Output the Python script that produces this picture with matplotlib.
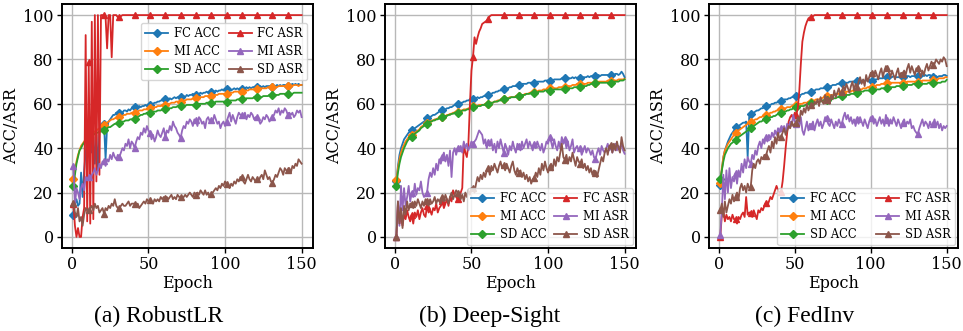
import matplotlib
matplotlib.use("Agg")
import matplotlib.pyplot as plt
import numpy as np

epochs = list(range(1, 151))
series_names = ["FC ACC", "MI ACC", "SD ACC", "FC ASR", "MI ASR", "SD ASR"]
captions = ["(a) RobustLR", "(b) Deep-Sight", "(c) FedInv"]
yticks = [0, 20, 40, 60, 80, 100]
xticks = [0, 50, 100, 150]

# ---------------- (a) RobustLR ----------------
rlr_fc_acc = [10, 15, 17, 14, 15, 29, 18, 30, 38, 44,
              43, 46, 38, 45, 33, 46, 30, 48, 49, 50,
              51, 35, 50, 52, 53, 54, 55, 55, 56, 56,
              56, 56.5, 56, 57, 57, 56.5, 57.5, 57, 58, 58,
              58.5, 58, 58.5, 59, 58.5, 59, 59, 59.5, 59, 59.5,
              59.5, 60, 60, 60.5, 60.5, 61, 61, 61.5, 61.5, 62,
              62, 61.5, 62, 62.5, 62, 62.5, 63, 62.5, 63, 63,
              63, 63.5, 63.5, 63, 64, 63.5, 64, 64, 64.5, 64,
              64, 64.5, 64.5, 65, 64.5, 65, 65, 65.5, 65, 65.5,
              65.5, 65, 65.5, 66, 65.5, 66, 66, 66.5, 66, 66.5,
              66.5, 66, 66.5, 66, 66.5, 67, 66.5, 67, 66.5, 67,
              66.5, 67, 67, 67.5, 67, 67.5, 67, 67.5, 67.5, 67.5,
              67.5, 67.5, 68, 67.5, 68, 67.5, 68, 68, 68, 67.5,
              67.5, 68, 68, 68.5, 68, 68.5, 68, 68.5, 68.5, 68,
              68, 68.5, 68.5, 69, 68.5, 69, 68.5, 69, 68.5, 68.5]
rlr_mi_acc = [26, 30, 34, 37, 39, 41, 42, 43, 44, 45,
              45.5, 46, 46.5, 47, 47.5, 48, 48.5, 49, 49.5, 50,
              50.5, 51, 51.5, 52, 52.5, 53, 53, 53.5, 53.5, 54,
              54, 54.5, 54.5, 55, 55, 55.5, 55.5, 55.5, 56, 56,
              56, 56.5, 56.5, 57, 57, 57, 57.5, 57.5, 57.5, 58,
              58, 58, 58.5, 58.5, 58.5, 59, 59, 59, 59.5, 59.5,
              59.5, 60, 60, 60, 60.5, 60.5, 60.5, 61, 61, 61,
              61, 61.5, 61.5, 61.5, 62, 62, 62, 62, 62.5, 62.5,
              62.5, 62.5, 63, 63, 63, 63, 63.5, 63.5, 63.5, 63.5,
              63.5, 64, 64, 64, 64, 64.5, 64.5, 64.5, 64.5, 64.5,
              64.5, 65, 65, 65, 65, 65.5, 65.5, 65.5, 65.5, 65.5,
              65.5, 66, 66, 66, 66, 66.5, 66.5, 66.5, 66.5, 66.5,
              66.5, 67, 67, 67, 67, 67, 67, 67.5, 67.5, 67.5,
              67.5, 67.5, 67.5, 67.5, 68, 68, 68, 68, 68, 68,
              68, 68.5, 68.5, 68, 68.5, 68.5, 68.5, 68, 68.5, 68.5]
rlr_sd_acc = [23, 28, 33, 36, 39, 40, 41.5, 42.5, 43.5, 44.5,
              45, 45.5, 46, 46, 46.5, 47, 47, 47.5, 47.5, 48,
              48, 48.5, 49, 49.5, 49.5, 50, 50.5, 51, 51, 51.5,
              51.5, 51.5, 52, 52, 52.5, 52.5, 52.5, 53, 53, 53,
              53, 53.5, 54, 54.5, 55, 55, 55.5, 55.5, 56, 56,
              56, 56, 56.5, 56.5, 56.5, 57, 57, 57, 57.5, 57.5,
              57.5, 57.5, 58, 58, 58, 58.5, 58.5, 58.5, 59, 59,
              59, 59, 59, 59, 59.5, 59.5, 59.5, 59.5, 59.5, 59.5,
              59.5, 59.5, 60, 60, 60, 60, 60, 60.5, 60.5, 60.5,
              60.5, 60.5, 60.5, 61, 61, 61, 61, 61, 61, 61,
              61, 61, 61.5, 61.5, 61.5, 61.5, 61.5, 62, 62, 62,
              62, 62, 62, 62.5, 62.5, 62.5, 62.5, 62.5, 63, 63,
              63, 63, 63, 63, 63.5, 63.5, 63.5, 63.5, 64, 64,
              64, 64, 64, 64, 64, 64.5, 64.5, 64.5, 64.5, 64.5,
              64.5, 64.5, 64.5, 64.5, 65, 65, 65, 65, 65, 65]
rlr_fc_asr = [15, 5, 0, 4, 0, 0, 9, 13, 91, 7,
              79, 6, 97, 8, 100, 25, 100, 28, 100, 100,
              100, 99, 85, 100, 100, 81, 100, 100, 100, 99,
              99, 99.5, 100, 100, 100, 100, 100, 100, 100, 100] + [100] * 110
rlr_mi_asr = [32, 14, 22, 20, 17, 22, 24, 21, 27, 26,
              27, 26, 28, 29, 31, 28, 30, 33, 31, 34,
              34, 32, 35, 34, 37, 35, 38, 36, 35, 37,
              36, 38, 40, 39, 42, 41, 44, 40, 43, 42,
              40, 43, 45, 44, 47, 46, 49, 47, 50, 48,
              47, 44, 46, 43, 45, 48, 46, 45, 47, 49,
              45, 48, 47, 50, 48, 52, 50, 49, 47, 46,
              44.5, 48, 50, 49, 52, 51, 53, 52, 50, 53,
              52.5, 50, 54, 53, 51, 52, 49, 53, 54, 52,
              52.5, 52, 55, 53, 51, 52, 49, 51, 52, 50,
              52, 54, 56, 52, 55, 53, 51, 54, 56, 55,
              55, 54, 56, 53, 55, 54, 56, 55, 53, 54,
              54, 53, 51, 52, 54, 53, 55, 54, 52, 53,
              54, 55, 57, 56, 58, 55, 57, 56, 58, 57,
              55, 56, 55, 56, 54, 55, 57, 56, 57, 54]
rlr_sd_asr = [15.5, 11, 9, 13, 7, 9, 5, 10, 13, 12,
              12, 13, 14, 12, 15, 13, 14, 11, 12, 13,
              10.5, 13, 12, 14, 13, 15, 14, 17, 14, 13,
              13, 14, 15, 14, 14, 15, 16, 14, 15, 15,
              15, 14, 15, 13, 14, 15, 16, 15, 17, 16,
              16.5, 16, 15, 17, 16, 17, 16, 18, 17, 18,
              17.5, 18, 17, 18, 19, 17, 18, 17, 19, 18,
              18, 17, 18, 19, 18, 19, 20, 19, 18, 20,
              19, 20, 19, 21, 20, 19, 21, 19, 20, 18,
              19.5, 20, 21, 22, 21, 23, 22, 24, 23, 25,
              24, 23, 22, 24, 23, 25, 24, 26, 25, 27,
              27, 25, 24, 26, 28, 26, 25, 27, 26, 25,
              26, 25, 27, 28, 26, 30, 28, 26, 27, 25,
              24.5, 26, 28, 27, 29, 31, 30, 28, 31, 30,
              30, 31, 29, 32, 31, 33, 32, 35, 34, 33]

# ---------------- (b) Deep-Sight ----------------
ds_fc_acc = [25, 32, 37, 40, 42, 44, 45, 46, 47, 47.5,
             48, 48.5, 49, 49.5, 50, 50.5, 51, 51.5, 52, 52.5,
             53.5, 53.5, 54, 54.5, 55, 55, 55.5, 56, 56.5, 57,
             57, 57, 57.5, 58, 58, 58.5, 58.5, 59, 59.5, 59.5,
             60, 60, 60.5, 60.5, 61, 61, 61.5, 61.5, 62, 62,
             62, 62.5, 62.5, 63, 62.5, 63, 63, 63.5, 63.5, 64,
             64, 64.5, 64.5, 65, 65, 65.5, 65.5, 66, 66, 66.5,
             66.5, 67, 67, 67, 67.5, 67.5, 68, 68, 68, 68.5,
             68.5, 68.5, 69, 69, 69, 69, 69.5, 69.5, 69.5, 69.5,
             69.5, 69.5, 70, 70, 70, 70, 70, 70.5, 70.5, 70.5,
             70.5, 70.5, 70.5, 71, 71, 71, 71, 71, 71.5, 71.5,
             71.5, 71.5, 71.5, 71.5, 71.5, 72, 71.5, 72, 71.5, 72,
             71.5, 72, 72, 72, 72, 72.5, 72, 72.5, 72.5, 72.5,
             72.5, 72.5, 73, 72.5, 73, 73, 73, 73, 73, 73,
             73, 73.5, 73, 73.5, 73.5, 73, 73.5, 74.5, 73.5, 72]
ds_mi_acc = [25.5, 31, 35, 38, 40, 41.5, 43, 44, 45, 45.5,
             46, 46.5, 47, 47.5, 48, 48.5, 49.5, 50, 50.5, 51,
             51.3, 51.5, 52, 52.5, 52.5, 53, 53, 53.5, 53.5, 54,
             54, 54.5, 54.5, 55, 55, 55.5, 55.5, 56, 56, 56.5,
             56.5, 56.5, 57, 57, 57.5, 57.5, 57.5, 58, 58, 58.5,
             58.8, 59, 59, 59, 59.5, 59.5, 59.5, 59.5, 60, 60,
             60, 60.5, 60.5, 60.5, 61, 61, 61.5, 61.5, 62, 62,
             62, 62.5, 62.5, 62.5, 63, 63, 63, 63, 63.5, 63.5,
             63.6, 64, 64, 64, 64.5, 64.5, 64.5, 65, 65, 65,
             65.5, 65.5, 65.5, 66, 66, 66, 66.5, 66.5, 66.5, 67,
             67, 67, 67, 67, 67, 67, 67.5, 67.5, 67.5, 67.5,
             67.5, 68, 68, 68, 68, 68.5, 68.5, 68.5, 69, 69,
             69, 69, 69, 69, 69, 69.5, 69.5, 69.5, 69.5, 69.5,
             69.6, 69.5, 70, 70, 70, 70, 70, 70, 70.5, 70.5,
             70.4, 70.5, 70.5, 70.5, 70.5, 71, 71, 71, 71, 71.3]
ds_sd_acc = [23, 29, 33, 36, 38, 40, 41.5, 43, 44, 44.5,
             45, 46, 46.5, 47, 47.5, 48, 49, 49.5, 50, 50.5,
             51, 51.5, 52, 52, 52.5, 52.5, 53, 53, 53.5, 54,
             54, 54, 54.5, 54.5, 55, 55, 55.5, 55.5, 56, 56,
             56, 56.5, 56.5, 57, 57, 57, 57.5, 57.5, 58, 58,
             58.5, 58.5, 58.5, 59, 59, 59, 59.5, 59.5, 59.5, 60,
             60, 60, 60.5, 60.5, 61, 61, 61, 61.5, 61.5, 62,
             62, 62, 62.5, 62.5, 62.5, 63, 63, 63, 63, 63.5,
             63.5, 63.5, 64, 64, 64, 64.5, 64.5, 64.5, 65, 65,
             65, 65, 65, 65.5, 65.5, 65.5, 65.5, 66, 66, 66,
             66, 66, 66, 66.5, 66.5, 66.5, 66.5, 66.5, 66.5, 66.5,
             66.5, 66.5, 67, 67, 67, 67, 67.5, 67.5, 67.5, 67.5,
             67.5, 67.5, 68, 68, 68, 68.5, 68.5, 69, 69, 69,
             69.5, 69.5, 69.5, 69.5, 69.5, 69.5, 69.5, 69.5, 69.5, 69.5,
             69.5, 69.5, 70, 70, 70, 70, 70.5, 70.5, 70.5, 71]
ds_fc_asr = [0, 15, 6, 9, 5, 10, 8, 12, 9, 7,
             10, 6, 11, 9, 12, 8, 11, 13, 10, 9,
             14, 11, 12, 10, 13, 12, 15, 11, 13, 14,
             16, 13, 15, 17, 14, 18, 16, 21, 19, 18,
             17, 18, 20, 22, 42, 38, 36, 42, 60, 75,
             81, 90, 87, 90, 92.5, 94, 96, 96.5, 97, 97.5,
             98.4, 99.5, 100, 100, 100, 100, 100, 100, 100, 100] + [100] * 80
ds_mi_asr = [0, 16, 5, 23, 12, 22, 14, 18, 23, 16,
             20, 18, 24, 19, 22, 21, 25, 20, 18, 19,
             20, 26, 29, 27, 31, 28, 33, 30, 35, 33,
             36, 38, 34, 37, 32, 39, 27, 38, 40, 37,
             40, 39, 41, 38, 43, 40, 42, 39, 41, 43,
             42, 43, 44, 46, 48, 47, 46, 42, 44, 40,
             43, 41, 44, 39, 42, 38, 43, 40, 44, 41,
             38, 42, 40, 37, 41, 39, 43, 40, 38, 42,
             41, 39, 43, 40, 42, 44, 40, 43, 41, 39,
             42, 40, 43, 41, 39, 42, 38, 40, 43, 42,
             45, 43, 40, 44, 41, 39, 43, 40, 45, 42,
             44, 40, 43, 39, 41, 44, 38, 40, 41, 39,
             40, 37, 39, 41, 38, 40, 39, 37, 39, 36,
             35, 38, 40, 37, 41, 39, 38, 40, 42, 39,
             41, 38, 40, 42, 39, 41, 40, 42, 39, 37.5]
ds_sd_asr = [0, 16, 6, 13, 4, 14, 10, 16, 12, 15,
             15, 13, 16, 14, 17, 15, 13, 16, 14, 17,
             16, 14, 17, 15, 16, 18, 15, 17, 16, 15,
             18, 16, 19, 17, 15, 18, 20, 17, 19, 21,
             20, 18, 17, 19, 16, 20, 18, 21, 19, 22,
             22, 20, 24, 27, 25, 28, 26, 29, 27, 30,
             31, 28, 32, 30, 33, 31, 29, 32, 34, 31,
             32.5, 30, 33, 31, 29, 32, 34, 30, 28, 31,
             28.7, 30, 27, 29, 26, 28, 25, 27, 24, 26,
             26.5, 29, 27, 31, 28, 33, 30, 34, 31, 29,
             31.7, 33, 30, 35, 32, 36, 34, 38, 42, 36,
             34.7, 37, 33, 36, 34, 38, 35, 32, 36, 34,
             33, 35, 31, 33, 30, 32, 29, 31, 28, 30,
             28.7, 27, 30, 33, 36, 34, 38, 40, 37, 41,
             41.5, 38, 42, 39, 43, 40, 38, 45, 41, 39]

# ---------------- (c) FedInv ----------------
fi_fc_acc = [23.5, 30, 36, 39, 41, 43, 44.5, 46, 47, 48,
             49.5, 49.5, 50, 50.5, 51, 51.5, 51.5, 52, 36, 54,
             55.3, 55.5, 56, 56.5, 57, 57, 57.5, 58, 58, 58.5,
             58.8, 59, 59.5, 59.5, 60, 60, 60.5, 60.5, 61, 61,
             61.3, 61.5, 62, 62, 62, 62.5, 62.5, 63, 63, 63,
             63.3, 63.5, 64, 64, 64.5, 64.5, 65, 65, 65, 65.5,
             65.5, 66, 66, 66.5, 66.5, 66.5, 67, 67, 67, 67.5,
             67.4, 67.5, 68, 68, 68.5, 68.5, 68.5, 69, 69, 69,
             69.3, 69.5, 69.5, 69.5, 69.5, 70, 70, 70, 70, 70,
             70.1, 70, 70.5, 70.5, 70.5, 70.5, 70.5, 70.5, 71, 70.5,
             70.5, 71, 71, 71, 71.5, 71.5, 71.5, 71.5, 72, 72,
             72, 72, 72, 72, 72.5, 72, 72, 72, 72, 72,
             72, 72, 72.5, 72.5, 72.5, 72, 72.5, 72.5, 72.5, 72.5,
             72.6, 72.5, 72.5, 73, 72.5, 73, 72.5, 73, 73, 72.5,
             72, 72.5, 72.5, 72, 72.5, 72.5, 72.5, 73, 73, 72.6]
fi_mi_acc = [24.5, 31, 36, 39, 40.5, 42, 43, 44, 45, 46,
             46.8, 47.5, 48, 48.5, 49, 49.5, 50, 50.5, 51, 51.5,
             51.6, 52, 52.5, 53, 53, 53.5, 54, 54, 54.5, 54.5,
             55, 55.5, 55.5, 56, 56, 56.5, 56.5, 57, 57, 57.5,
             57.6, 58, 58, 58, 58.5, 58.5, 58.5, 59, 59, 59.5,
             59.5, 59.5, 60, 60, 60, 60.5, 60.5, 60.5, 61, 61,
             61, 61.5, 61.5, 62, 62, 62, 62.5, 62.5, 63, 63,
             63.3, 63.5, 63.5, 64, 64, 64, 64.5, 64.5, 64.5, 64.5,
             64.8, 65, 65, 65.5, 65.5, 65.5, 65.5, 66, 66, 66,
             66, 66.5, 66.5, 66.5, 67, 67, 67, 67.5, 67.5, 67.5,
             67.8, 68, 68, 68.5, 68.5, 68.5, 69, 69, 69, 69.5,
             69.6, 69.5, 69.5, 69.5, 69.5, 69.5, 69.5, 69.5, 69.5, 69.5,
             69.6, 69.5, 69.5, 70, 70, 70, 70, 70, 70, 70,
             70, 70, 70, 70.5, 70.5, 70.5, 70.5, 70.5, 70.5, 70.5,
             70.8, 71, 71, 71, 71.5, 71.5, 71.5, 71.5, 72, 72]
fi_sd_acc = [26, 30, 34, 37, 38.5, 40, 41, 42, 42.5, 43,
             43.8, 44.5, 45, 45.5, 46, 46.5, 47, 47.5, 48, 48.5,
             49.3, 49.5, 50, 50.5, 51, 51.5, 52, 52, 52.5, 53,
             53.1, 53.5, 53.5, 54, 54, 54.5, 54.5, 55, 55.5, 55.5,
             55.8, 56, 56.5, 56.5, 57, 57, 57.5, 57.5, 58, 58,
             58.5, 58.5, 58.5, 59, 59, 59, 59.5, 59.5, 60, 60,
             60.3, 60.5, 60.5, 60.5, 61, 61, 61, 61.5, 61.5, 61.5,
             61.8, 62, 62, 62, 62.5, 62.5, 62.5, 63, 63, 63,
             63.3, 63.5, 63.5, 64, 64, 64, 64.5, 64.5, 64.5, 65,
             65.1, 65.5, 65.5, 65.5, 65.5, 66, 66, 66, 66, 66,
             66.3, 66.5, 66.5, 66.5, 66.5, 66.5, 67, 67, 67, 67,
             67.1, 67.5, 67.5, 67.5, 67.5, 67.5, 68, 68, 68, 68,
             68.1, 68.5, 68.5, 68.5, 68.5, 68.5, 68.5, 69, 69, 69,
             69, 69, 69, 69, 69, 69, 69, 69.5, 69.5, 69.5,
             69.3, 69.5, 69.5, 69.5, 69.5, 69.5, 70, 70, 70, 70.8]
fi_fc_asr = [0, 10, 12, 7, 10, 8, 9, 7, 10, 8,
             8, 6, 9, 8, 10, 11, 9, 18, 10, 11,
             11, 9, 12, 10, 8, 12, 11, 13, 12, 14,
             15.5, 14, 16, 18, 17, 19, 21, 23, 21, 20,
             20.4, 25, 32, 40, 47, 52, 54, 55, 53, 56,
             55, 58, 66, 78, 88, 92, 95, 97, 98.5, 99,
             99, 99.5, 100, 100, 100, 100, 100, 100, 100, 100] + [100] * 80
fi_mi_asr = [1, 12, 28, 17, 30, 20, 31, 22, 27, 25,
             28.7, 24, 30, 27, 33, 29, 35, 31, 36, 34,
             33, 37, 35, 39, 37, 41, 43, 40, 44, 42,
             45, 43, 46, 44, 47, 45, 48, 46, 49, 47,
             49, 48, 50, 47, 51, 49, 52, 50, 55, 52,
             51, 53, 50, 54, 48, 46, 49, 52, 48, 51,
             50, 52, 48, 51, 53, 50, 52, 49, 51, 54,
             53.5, 51, 50, 53, 51, 49, 52, 50, 53, 51,
             51, 54, 56, 53, 55, 52, 54, 51, 53, 50,
             53, 51, 54, 52, 50, 53, 51, 49, 52, 54,
             53.5, 51, 53, 50, 52, 54, 51, 53, 50, 55,
             52.5, 50, 53, 51, 54, 52, 50, 53, 51, 49,
             51.5, 53, 50, 52, 51, 53, 49, 50, 48, 47,
             46.3, 49, 51, 53, 50, 52, 51, 49, 52, 50,
             51, 53, 50, 52, 49, 51, 48, 50, 49, 50]
fi_sd_asr = [12.2, 15, 9, 16, 11, 14, 17, 15, 19, 16,
             18.2, 20, 17, 22, 24, 21, 23, 20, 24, 22,
             22.4, 30, 33, 31, 34, 35, 33, 36, 35, 37,
             36.5, 39, 41, 38, 43, 40, 45, 42, 47, 44,
             45.2, 47, 49, 46, 48, 50, 49, 52, 50, 51,
             51.3, 54, 52, 57, 55, 58, 56, 60, 57, 59,
             59.5, 58, 61, 60, 62, 59, 63, 61, 60, 64,
             61.8, 63, 60, 64, 62, 66, 63, 65, 67, 64,
             65.5, 68, 66, 69, 67, 65, 68, 70, 66, 69,
             67.5, 70, 72, 69, 71, 68, 73, 70, 72, 74,
             73.8, 72, 75, 73, 71, 74, 76, 72, 75, 77,
             76.1, 74, 72, 75, 73, 71, 74, 76, 72, 74,
             73.5, 75, 73, 76, 78, 74, 77, 75, 73, 76,
             76.1, 74, 72, 75, 73, 76, 78, 75, 77, 79,
             77.6, 78, 80, 79, 78, 80, 79, 81, 80, 77]

panels = [
    [rlr_fc_acc, rlr_mi_acc, rlr_sd_acc, rlr_fc_asr, rlr_mi_asr, rlr_sd_asr],
    [ds_fc_acc, ds_mi_acc, ds_sd_acc, ds_fc_asr, ds_mi_asr, ds_sd_asr],
    [fi_fc_acc, fi_mi_acc, fi_sd_acc, fi_fc_asr, fi_mi_asr, fi_sd_asr],
]

colors = ["#1f77b4", "#ff7f0e", "#2ca02c", "#d62728", "#9467bd", "#8c564b"]
markers = ["D", "D", "D", "^", "^", "^"]

plt.rcParams["font.family"] = ["DejaVu Serif"]
fig = plt.figure(figsize=(9.63, 3.31), dpi=100)

W, H = 963.0, 331.0
axes_px = [(62, 313), (385, 636), (709, 958)]
top_px, bot_px = 4, 248
cap_x = [159, 490, 805]

for i, (data, (l, r)) in enumerate(zip(panels, axes_px)):
    ax = fig.add_axes([l / W, (H - bot_px) / H, (r - l) / W, (bot_px - top_px) / H])
    for j in range(6):
        ax.plot(epochs, data[j], color=colors[j], marker=markers[j], markevery=10,
                markersize=4.5, linewidth=1.3, label=series_names[j])
    ax.set_xticks(xticks)
    ax.set_yticks(yticks)
    ax.tick_params(labelsize=11.5, length=3.5, width=1, pad=2.5)
    ax.grid(True, color="#b8b8b8", linewidth=1.0)
    ax.set_axisbelow(True)
    for s in ax.spines.values():
        s.set_linewidth(1.4)
    ax.set_xlabel("Epoch", fontsize=11.5, labelpad=1)
    ax.set_ylabel("ACC/ASR", fontsize=11.5, labelpad=2)
    common = dict(ncol=2, fontsize=8.3, handlelength=2.0, labelspacing=0.42,
                  borderpad=0.35, handletextpad=0.5)
    if i == 0:
        ax.legend(loc="upper right", bbox_to_anchor=(1.0, 0.945), columnspacing=0.7,
                  **common)
    elif i == 1:
        ax.legend(loc="lower right", columnspacing=0.7, borderaxespad=0.25, **common)
    else:
        ax.legend(loc="lower right", columnspacing=1.7, borderaxespad=0.25, **common)
    fig.text(cap_x[i] / W, 1 - 316 / H, captions[i], ha="center", va="center",
             fontsize=17, family=["Liberation Serif", "DejaVu Serif"])

fig.savefig("out.png", dpi=100)
